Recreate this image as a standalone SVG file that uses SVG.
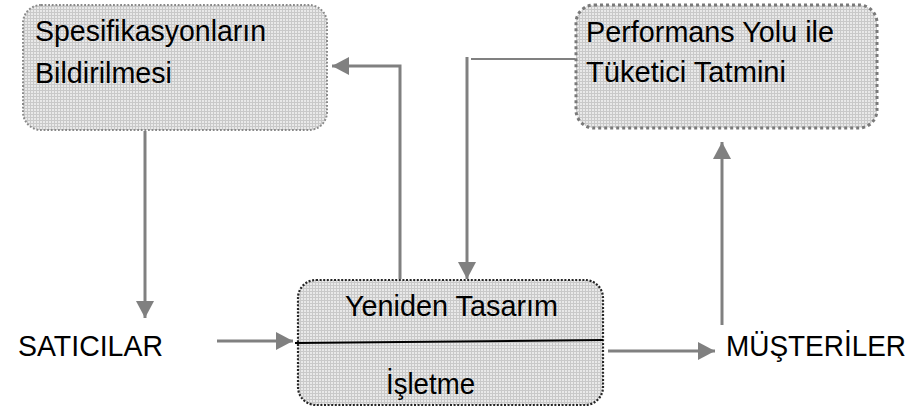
<svg xmlns="http://www.w3.org/2000/svg" width="922" height="412" viewBox="0 0 922 412">
  <defs>
    <!-- fine grid fill used inside the boxes -->
    <pattern id="grid" width="3" height="3" patternUnits="userSpaceOnUse">
      <rect width="3" height="3" fill="#e9e9e9"/>
      <path d="M0 0.5H3M0.5 0V3" stroke="#c9c9c9" stroke-width="1"/>
    </pattern>
    <marker id="arrow" markerUnits="userSpaceOnUse" markerWidth="18" markerHeight="18" refX="17" refY="9" orient="auto">
      <path d="M0,0 L17,9 L0,18 z" fill="#808080"/>
    </marker>
  </defs>
  <style>
    text { font-family: "Liberation Sans", Arial, sans-serif; font-size: 29px; fill: #000; }
    .conn { fill: none; stroke: #808080; stroke-width: 3; }
    .thin { fill: none; stroke: #808080; stroke-width: 2; }
    .box { fill: url(#grid); }
  </style>

  <rect width="922" height="412" fill="#fff"/>

  <!-- connectors -->
  <g id="connectors">
    <line class="conn" x1="145" y1="131" x2="145" y2="318" marker-end="url(#arrow)"/>
    <line class="conn" x1="217" y1="341" x2="293" y2="341" marker-end="url(#arrow)"/>
    <line class="conn" x1="608" y1="351" x2="715" y2="351" marker-end="url(#arrow)"/>
    <line class="conn" x1="722" y1="325" x2="722" y2="142" marker-end="url(#arrow)"/>
    <polyline class="conn" points="400,279 400,66 332,66" marker-end="url(#arrow)"/>
    <line class="thin" x1="471" y1="59" x2="575" y2="59"/>
    <line class="conn" x1="467" y1="57" x2="467" y2="279" marker-end="url(#arrow)"/>
  </g>

  <!-- specification box -->
  <g id="spesifikasyon">
    <rect class="box" x="23" y="5" width="304" height="125" rx="18" ry="18" stroke="#8a8a8a" stroke-width="2" stroke-dasharray="1.8 1.8"/>
    <text x="35" y="41" textLength="231" lengthAdjust="spacingAndGlyphs">Spesifikasyonların</text>
    <text x="35" y="83" textLength="137" lengthAdjust="spacingAndGlyphs">Bildirilmesi</text>
  </g>

  <!-- performance box -->
  <g id="performans">
    <rect class="box" x="576" y="5" width="301" height="123" rx="18" ry="18" stroke="#7a7a7a" stroke-width="3" stroke-dasharray="3 3"/>
    <text x="586" y="42" textLength="248" lengthAdjust="spacingAndGlyphs">Performans Yolu ile</text>
    <text x="586" y="82" textLength="200" lengthAdjust="spacingAndGlyphs">Tüketici Tatmini</text>
  </g>

  <!-- redesign / business box -->
  <g id="isletme">
    <rect class="box" x="298" y="280" width="305" height="125" rx="18" ry="18" stroke="#262626" stroke-width="2.2" stroke-dasharray="2 1.6"/>
    <line x1="295" y1="343" x2="603" y2="340" stroke="#000" stroke-width="2"/>
    <text x="345" y="316" textLength="213" lengthAdjust="spacingAndGlyphs">Yeniden Tasarım</text>
    <text x="386" y="394" textLength="89" lengthAdjust="spacingAndGlyphs">İşletme</text>
  </g>

  <!-- end labels -->
  <g id="saticilar">
    <text x="18" y="356" textLength="145" lengthAdjust="spacingAndGlyphs">SATICILAR</text>
  </g>
  <g id="musteriler">
    <text x="726" y="356" textLength="180" lengthAdjust="spacingAndGlyphs">MÜŞTERİLER</text>
  </g>
</svg>
